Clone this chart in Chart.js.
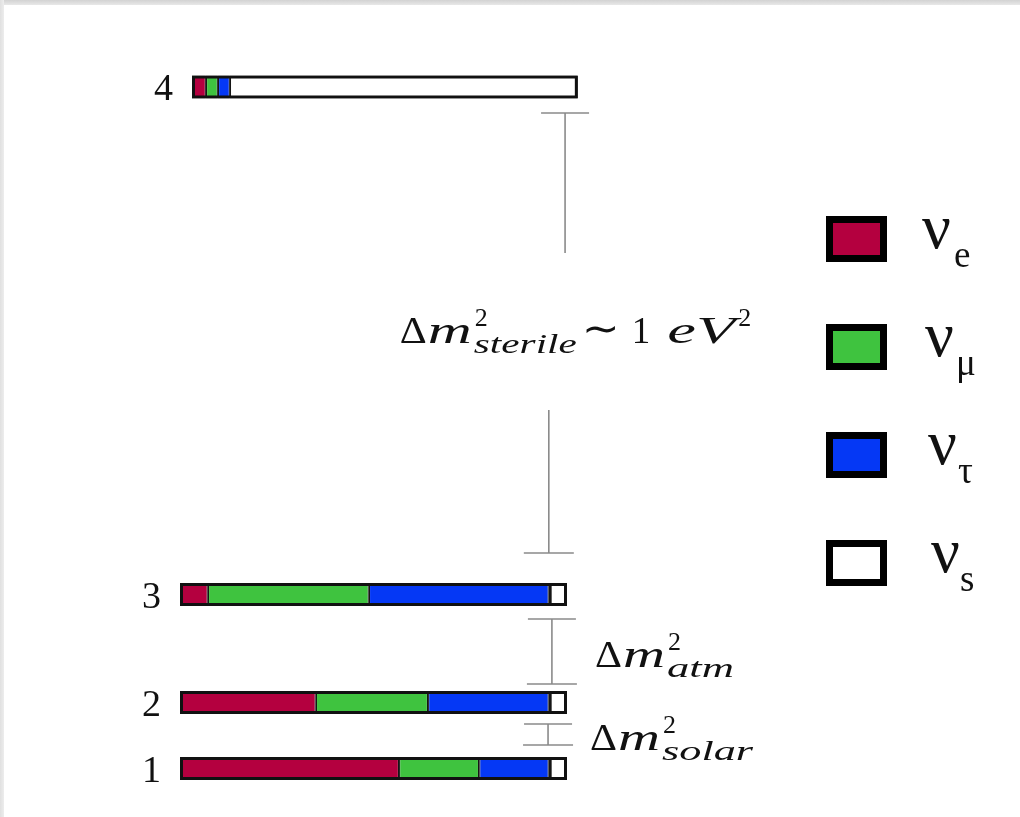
<!DOCTYPE html>
<html lang="en">
<head>
<meta charset="UTF-8">
<title>Neutrino mass states</title>
<script src="https://cdn.jsdelivr.net/npm/chart.js"></script>
<style>
  html, body { margin: 0; padding: 0; background: #fff; }
  #frame { position: relative; width: 1020px; height: 817px; background: #fff; overflow: hidden; }
  #frame::before { content: ''; position: absolute; left: 0; top: 0; width: 1020px; height: 5px; background: linear-gradient(#d2d2d2, #e8e8e8); }
  #frame::after { content: ''; position: absolute; left: 0; top: 0; width: 4px; height: 817px; background: linear-gradient(to right, #e0e0e0, #ededed); }
  canvas { position: absolute; left: 0; top: 0; }
</style>
</head>
<body>
<div id="frame"><canvas id="massChart" width="1020" height="817"></canvas></div>
<script>
// mass eigenstates, bottom to top
const states = ['1', '2', '3', '4'];
const massLevel = [0, 6.6, 17.4, 68.15];   // relative mass^2, arbitrary units
const barOffset = [0, 0, 0, 3.1];

// flavour content of each state (bar lengths)
const nuE   = [56.6, 35.1, 7.2, 3.6];
const nuMu  = [20.7, 29.0, 41.6, 3.1];
const nuTau = [18.0, 31.2, 46.5, 3.1];
const nuS   = [4.7, 4.7, 4.7, 89.9];

const flavourSub = ['e', 'μ', 'τ', 's'];
const flavourColors = ['#b4003f', '#3fc33f', '#0538f5', '#ffffff'];

// mass splittings (bracket ends on the mass axis)
const splitNames = ['sterile', 'atm', 'solar'];
const splitHigh = [65.55, 14.95, 4.45];
const splitLow  = [21.55, 8.45, 2.35];
const splitX    = [[99.5, 95.3], [96.1, 96.1], [95.1, 95.1]];
const splitGap  = [[35.85, 51.55], null, null];

// build floating segments
const layers = [nuE, nuMu, nuTau, nuS];
const run = barOffset.slice();
const segData = layers.map(w => states.map((s, i) => {
    const a = run[i];
    run[i] = a + w[i];
    return { y: massLevel[i], x: [a, run[i]] };
}));
const outline = states.map((s, i) => ({ y: massLevel[i], x: [barOffset[i], run[i]] }));

// outline first so it is painted on top of the segments
const datasets = [{
    label: 'outline',
    data: outline,
    backgroundColor: 'rgba(0,0,0,0)',
    borderColor: '#111',
    borderWidth: 3
}];
flavourSub.forEach((f, k) => datasets.push({
    label: 'ν' + f,
    data: segData[k],
    backgroundColor: flavourColors[k],
    borderColor: '#151515',
    borderWidth: k === 3 ? [3, 3, 3, 1.2] : 1.2
}));

const SERIF = '"Liberation Serif", "DejaVu Serif", serif';

// draw text squeezed/stretched to a given width, returns the width
function fitText(ctx, text, x, y, font, width) {
    ctx.font = font;
    const w = ctx.measureText(text).width;
    ctx.save();
    ctx.translate(x, y);
    ctx.scale(width / w, 1);
    ctx.fillText(text, 0, 0);
    ctx.restore();
    return width;
}

function mathLabel(ctx, x, y, sub, mW, subW, tail) {
    ctx.textAlign = 'left';
    ctx.textBaseline = 'alphabetic';
    x += fitText(ctx, 'Δ', x, y, '38px ' + SERIF, 27) + 1;
    x += fitText(ctx, 'm', x, y, 'italic 37px ' + SERIF, mW) + 2;
    ctx.font = '26px ' + SERIF;
    ctx.fillText('2', x + 1, y - 17);
    fitText(ctx, sub, x, y + 10, 'italic 27px ' + SERIF, subW);
    x += subW;
    if (tail) {
        x += 5;
        x += fitText(ctx, '∼', x, y - 1, '40px "DejaVu Sans"', 38) + 12;
        ctx.font = '37px ' + SERIF;
        ctx.fillText('1', x, y);
        x += ctx.measureText('1').width + 17;
        x += fitText(ctx, 'eV', x, y, 'italic 37px ' + SERIF, 68) + 3;
        ctx.font = '26px ' + SERIF;
        ctx.fillText('2', x, y - 17);
    }
}

const annotate = {
    id: 'annotate',
    afterDatasetsDraw(chart) {
        const ctx = chart.ctx;
        const xs = chart.scales.x, ys = chart.scales.y;
        const bars = chart.getDatasetMeta(0).data;
        ctx.save();

        // state numbers
        ctx.fillStyle = '#111';
        ctx.font = '38px ' + SERIF;
        ctx.textAlign = 'right';
        ctx.textBaseline = 'alphabetic';
        bars.forEach((b, i) => ctx.fillText(states[i], b.base - 19, b.y + 13));

        // splitting brackets
        ctx.strokeStyle = '#8a8a8a';
        ctx.lineWidth = 1.6;
        const seg = (x1, y1, x2, y2) => { ctx.beginPath(); ctx.moveTo(x1, y1); ctx.lineTo(x2, y2); ctx.stroke(); };
        const labelAt = [];
        splitNames.forEach((n, k) => {
            const xt = xs.getPixelForValue(splitX[k][0]);
            const xb = xs.getPixelForValue(splitX[k][1]);
            const yt = ys.getPixelForValue(splitHigh[k]);
            const yb = ys.getPixelForValue(splitLow[k]);
            seg(xt - 24, yt, xt + 24, yt);
            seg(xb - 25, yb, xb + 25, yb);
            if (splitGap[k]) {
                const g0 = ys.getPixelForValue(splitGap[k][0]);
                const g1 = ys.getPixelForValue(splitGap[k][1]);
                seg(xt, yt, xt, g1);
                seg(xb, g0, xb, yb);
                labelAt.push([xb - 149, (g0 + g1) / 2 + 11]);
            } else {
                seg(xt, yt, xt, yb);
                labelAt.push([xt + 43, (yt + yb) / 2 + 15.5]);
            }
        });

        ctx.fillStyle = '#111';
        mathLabel(ctx, labelAt[0][0], labelAt[0][1], splitNames[0], 44, 103, true);
        mathLabel(ctx, labelAt[1][0], labelAt[1][1], splitNames[1], 42, 67, false);
        mathLabel(ctx, labelAt[2][0] - 1, labelAt[2][1], splitNames[2], 42, 91, false);

        // legend
        flavourSub.forEach((s, k) => {
            const cy = 239 + k * 108;
            ctx.fillStyle = '#000';
            ctx.fillRect(826, cy - 23, 61, 46);
            ctx.fillStyle = flavourColors[k];
            ctx.fillRect(833, cy - 16, 47, 32);
            ctx.fillStyle = '#111';
            ctx.textAlign = 'left';
            ctx.font = '64px ' + SERIF;
            ctx.fillText('ν', 922 + k * 3, cy + 9);
            ctx.font = '37px ' + SERIF;
            ctx.fillText(s, 954 + k * 2, cy + 28);
        });
        ctx.restore();
    }
};

const ctx = document.getElementById('massChart').getContext('2d');
const massChart = new Chart(ctx, {
    type: 'bar',
    data: { labels: states, datasets: datasets },
    options: {
        indexAxis: 'y',
        responsive: false,
        animation: false,
        events: [],
        layout: { padding: 0 },
        datasets: { bar: { grouped: false, barThickness: 23, borderSkipped: false, inflateAmount: 0 } },
        plugins: { legend: { display: false }, tooltip: { enabled: false } },
        scales: {
            x: { type: 'linear', min: -46.51, max: 217.05, display: false },
            y: { type: 'linear', min: -4.85, max: 76.85, display: false, offset: false }
        }
    },
    plugins: [annotate]
});
</script>
</body>
</html>
